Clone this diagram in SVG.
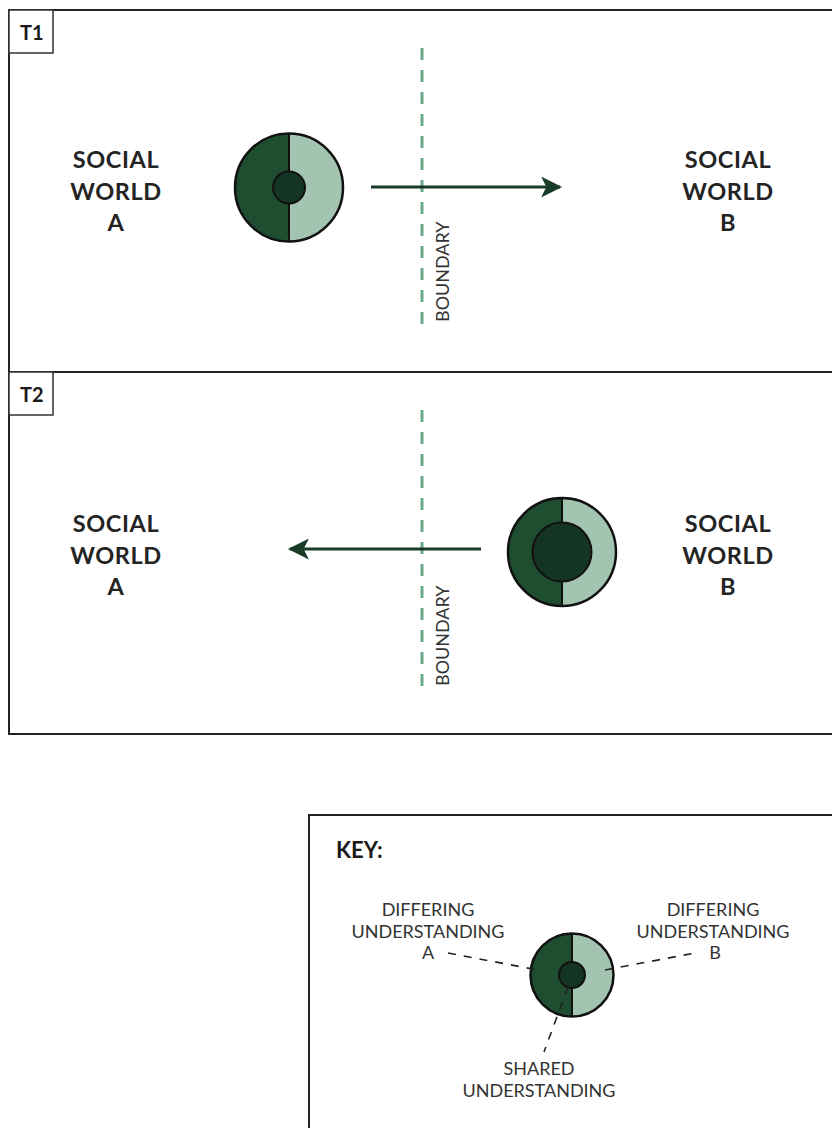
<svg xmlns="http://www.w3.org/2000/svg" width="832" height="1128" viewBox="0 0 832 1128">
  <defs>
    <style>
      .frame { fill: #ffffff; stroke: #222222; stroke-width: 2; }
      .tag { fill: #ffffff; stroke: #333333; stroke-width: 1.5; }
      .tagtxt { font-family: Lato, "Liberation Sans", sans-serif; font-weight: 700; font-size: 20px; fill: #1a1a1a; }
      .world { font-family: Lato, "Liberation Sans", sans-serif; font-weight: 700; font-size: 23.5px; fill: #242424; text-anchor: middle; letter-spacing: 0.6px; }
      .thin { font-family: Lato, "Liberation Sans", sans-serif; font-weight: 400; font-size: 18px; fill: #333333; text-anchor: middle; }
      .boundary { stroke: #6aa88a; stroke-width: 3; stroke-dasharray: 12 10; fill: none; }
      .flow { stroke: #193c28; stroke-width: 3; fill: none; }
      .leader { stroke: #222222; stroke-width: 1.6; stroke-dasharray: 8 8; fill: none; }
      .dark { fill: #1e4d30; }
      .light { fill: #a2c4b1; }
      .core { fill: #143523; stroke: #111111; stroke-width: 2; }
      .rim { fill: none; stroke: #111111; stroke-width: 2.5; }
      .split { stroke: #111111; stroke-width: 2; }
    </style>
    <marker id="head" viewBox="0 0 10 10" refX="9" refY="5" markerWidth="7.5" markerHeight="7" orient="auto" markerUnits="strokeWidth">
      <path d="M0,0 L10,5 L0,10 L2.5,5 Z" fill="#193c28"/>
    </marker>
  </defs>

  <!-- T1 panel -->
  <g id="panel-t1">
    <rect class="frame" x="9" y="10" width="900" height="362"/>
    <rect class="tag" x="9" y="10" width="44" height="43"/>
    <text class="tagtxt" x="20" y="40">T1</text>
  </g>
  <!-- T2 panel -->
  <g id="panel-t2">
    <rect class="frame" x="9" y="372" width="900" height="362"/>
    <rect class="tag" x="9" y="372" width="44" height="43"/>
    <text class="tagtxt" x="20" y="402">T2</text>
  </g>
  <!-- key frame -->
  <g id="key">
    <rect class="frame" x="309" y="815" width="600" height="400"/>
    <text class="tagtxt" x="336" y="858" style="font-size:22px">KEY:</text>
  </g>

  <!-- world labels -->
  <g id="t1-world-a">
    <text class="world" x="116" y="168">SOCIAL</text>
    <text class="world" x="116" y="200">WORLD</text>
    <text class="world" x="116" y="231">A</text>
  </g>
  <g id="t1-world-b">
    <text class="world" x="728" y="168">SOCIAL</text>
    <text class="world" x="728" y="200">WORLD</text>
    <text class="world" x="728" y="231">B</text>
  </g>
  <g id="t2-world-a">
    <text class="world" x="116" y="532">SOCIAL</text>
    <text class="world" x="116" y="564">WORLD</text>
    <text class="world" x="116" y="595">A</text>
  </g>
  <g id="t2-world-b">
    <text class="world" x="728" y="532">SOCIAL</text>
    <text class="world" x="728" y="564">WORLD</text>
    <text class="world" x="728" y="595">B</text>
  </g>

  <!-- boundaries -->
  <g id="t1-boundary">
    <line class="boundary" x1="422" y1="48" x2="422" y2="326"/>
    <text class="thin" transform="translate(449 322) rotate(-90)" style="text-anchor:start">BOUNDARY</text>
  </g>
  <g id="t2-boundary">
    <line class="boundary" x1="422" y1="410" x2="422" y2="690"/>
    <text class="thin" transform="translate(449 686) rotate(-90)" style="text-anchor:start">BOUNDARY</text>
  </g>

  <!-- understanding discs -->
  <g id="t1-disc">
    <path class="dark" d="M289,133.5 A54,54 0 0 0 289,241.5 Z"/>
    <path class="light" d="M289,133.5 A54,54 0 0 1 289,241.5 Z"/>
    <line class="split" x1="289" y1="133.5" x2="289" y2="241.5"/>
    <circle class="core" cx="289" cy="187.5" r="16"/>
    <circle class="rim" cx="289" cy="187.5" r="54"/>
  </g>
  <g id="t2-disc">
    <path class="dark" d="M562,498 A54,54 0 0 0 562,606 Z"/>
    <path class="light" d="M562,498 A54,54 0 0 1 562,606 Z"/>
    <line class="split" x1="562" y1="498" x2="562" y2="606"/>
    <circle class="core" cx="562" cy="552" r="29.5"/>
    <circle class="rim" cx="562" cy="552" r="54"/>
  </g>
  <g id="key-disc">
    <path class="dark" d="M572,933.5 A41.5,41.5 0 0 0 572,1016.5 Z"/>
    <path class="light" d="M572,933.5 A41.5,41.5 0 0 1 572,1016.5 Z"/>
    <line class="split" x1="572" y1="933.5" x2="572" y2="1016.5"/>
    <circle class="core" cx="572" cy="975" r="13"/>
    <circle class="rim" cx="572" cy="975" r="41.5"/>
  </g>

  <g id="key-label-a">
    <text class="thin" x="428" y="916">DIFFERING</text>
    <text class="thin" x="428" y="938">UNDERSTANDING</text>
    <text class="thin" x="428" y="959">A</text>
  </g>
  <g id="key-label-b">
    <text class="thin" x="713" y="916">DIFFERING</text>
    <text class="thin" x="713" y="938">UNDERSTANDING</text>
    <text class="thin" x="715" y="959">B</text>
  </g>
  <g id="key-label-shared">
    <text class="thin" x="539" y="1075">SHARED</text>
    <text class="thin" x="539" y="1097">UNDERSTANDING</text>
  </g>

  <!-- connectors -->
  <g id="connectors">
    <line class="flow" x1="371" y1="187" x2="560" y2="187" marker-end="url(#head)"/>
    <line class="flow" x1="481" y1="549" x2="290" y2="549" marker-end="url(#head)"/>
    <line class="leader" x1="448" y1="953" x2="538" y2="970"/>
    <line class="leader" x1="605" y1="970" x2="695" y2="953"/>
    <line class="leader" x1="568" y1="987" x2="544" y2="1052"/>
  </g>
</svg>
